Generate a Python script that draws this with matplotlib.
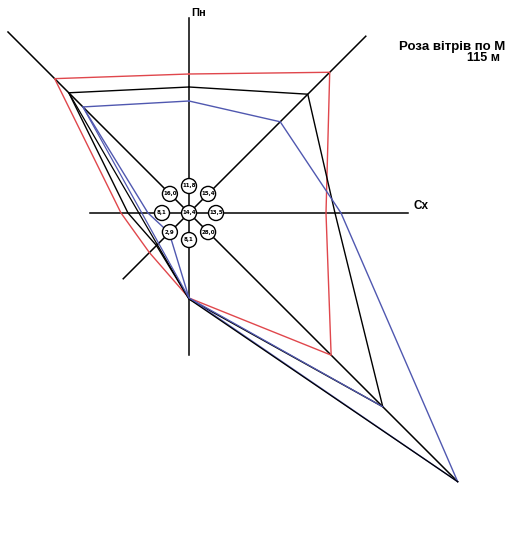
import matplotlib.pyplot as plt
import numpy as np

# directions (degrees, counter-clockwise from east)
directions = ["Пн", "ПнСх", "Сх", "ПдСх", "Пд", "ПдЗх", "Зх", "ПнЗх"]
angles = [90, 45, 0, -45, -90, -135, 180, 135]

# frequencies written in the small circles (%), plus calm in the centre
freq_labels = ["11,8", "15,4", "13,5", "28,0", "8,1", "2,9", "8,1", "16,0"]
calm_label = "14,4"

# rose polygons (radius per direction, drawing units)
red_r = [139, 199, 137, 201, 85, 56, 68, 190]
black_r = [126, 168, 146, 274, 86, 46, 61, 170]
blue_r = [112, 129, 152, 380, 85, 28, 41, 150]

# extra construction lines drawn by hand: NW -> S -> SE
chord_angles = [135, -90, -45]
black_chord_r = [170, 86, 380]
blue_chord_r = [150, 85, 274]


def to_xy(r, ang):
    a = np.radians(ang)
    return np.array(r) * np.cos(a), np.array(r) * np.sin(a)


fig = plt.figure(figsize=(5.06, 5.40), dpi=100)
ax = fig.add_axes([0, 0, 1, 1])
ax.set_xlim(-189, 317)
ax.set_ylim(-327, 213)
ax.axis("off")

ang = np.array(angles)
red_c, blue_c = "#e0474c", "#5058b0"

# axes of the rose
ax.plot([0, 0], [-142, 195], color="black", lw=1.1, zorder=2)
ax.plot([-99, 219], [0, 0], color="black", lw=1.1, zorder=2)
x, y = to_xy([256, 380], [135, -45])
ax.plot(x, y, color="black", lw=1.1, zorder=2)
x, y = to_xy([250, 93], [45, -135])
ax.plot(x, y, color="black", lw=1.1, zorder=2)

# polygons
for r, c in [(red_r, red_c), (black_r, "black"), (blue_r, blue_c)]:
    x, y = to_xy(r + r[:1], list(ang) + [ang[0]])
    ax.plot(x, y, color=c, lw=1.0, zorder=3)

for r, c in [(black_chord_r, "black"), (blue_chord_r, blue_c)]:
    x, y = to_xy(r, chord_angles)
    ax.plot(x, y, color=c, lw=0.9, zorder=3)

# small circles with frequencies
x, y = to_xy([27] * 8, ang)
for xi, yi, lab in zip(list(x) + [0], list(y) + [0], freq_labels + [calm_label]):
    ax.add_patch(plt.Circle((xi, yi), 7.5, facecolor="white", edgecolor="black",
                            lw=1.0, zorder=4))
    ax.text(xi, yi, lab, ha="center", va="center", fontsize=4, fontweight="bold",
            zorder=5)

# labels
ax.text(2, 200, "Пн", ha="left", va="center", fontsize=8, fontweight="bold",
        family="Liberation Sans")
ax.text(232, 7, "Сх", ha="center", va="center", fontsize=8.5, fontweight="bold",
        family="Liberation Sans")
ax.text(210, 166, "Роза вітрів по М", ha="left", va="center", fontsize=9.5,
        fontweight="bold", family="Liberation Sans")
ax.text(311, 155, "115 м", ha="right", va="center", fontsize=9,
        fontweight="bold", family="Liberation Sans")

fig.savefig("out.png", dpi=100)
